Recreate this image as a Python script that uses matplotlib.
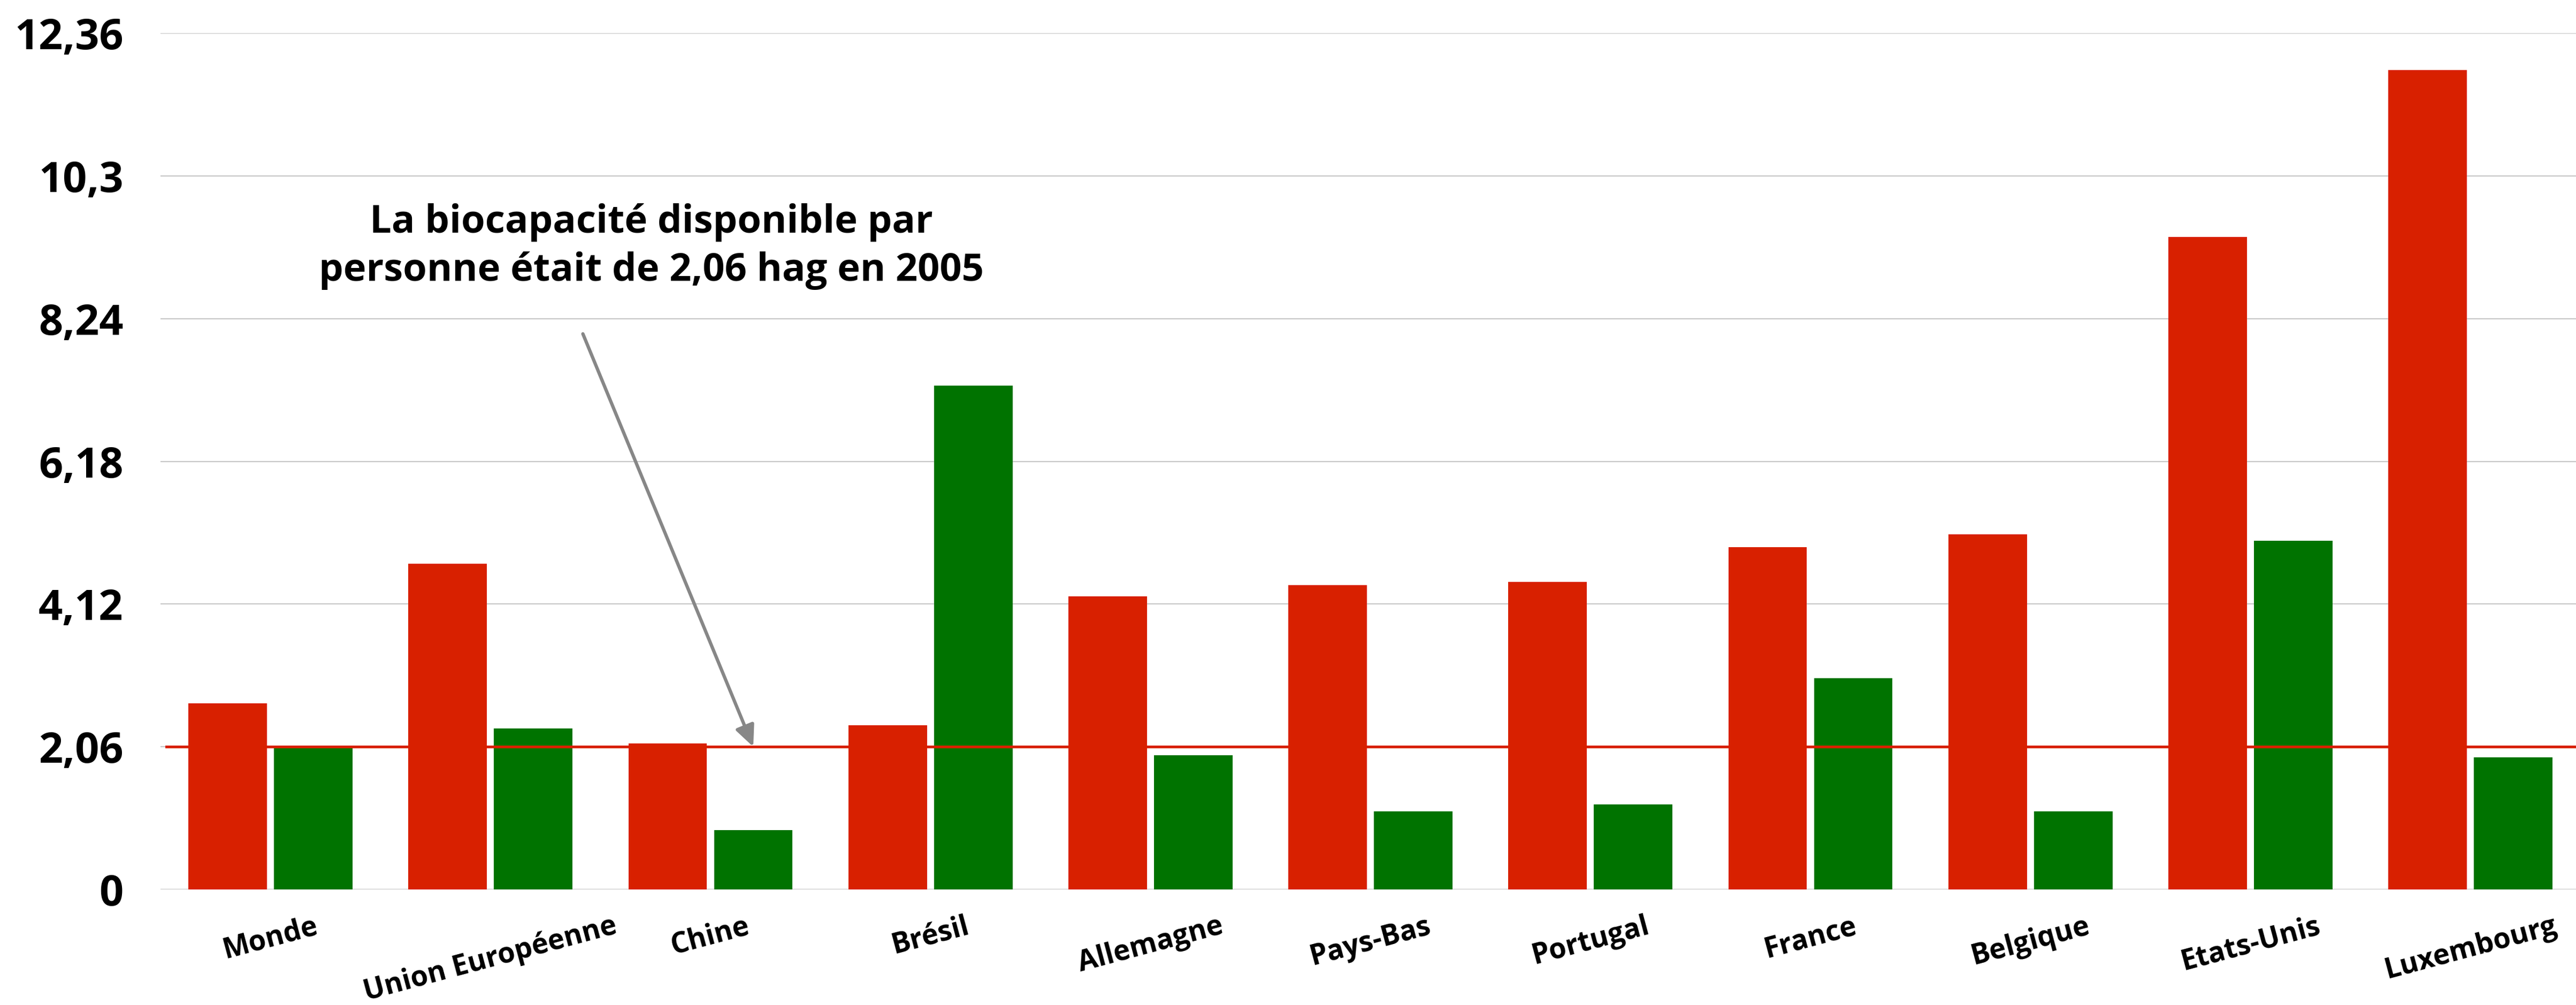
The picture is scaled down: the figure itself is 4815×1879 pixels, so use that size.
"""
Empreinte écologique vs biocapacité par personne (hag, 2005)
Bar chart, 4815x1879 px
"""

import matplotlib
matplotlib.use('Agg')
import matplotlib.pyplot as plt
import numpy as np

plt.rcParams['font.family'] = ['Open Sans', 'DejaVu Sans']

# ── Data ───────────────────────────────────────────────────────────
pays = ['Monde', 'Union Européenne', 'Chine', 'Brésil', 'Allemagne',
        'Pays-Bas', 'Portugal', 'France', 'Belgique', 'Etats-Unis',
        'Luxembourg']
empreinte = [2.69, 4.70, 2.11, 2.37, 4.23, 4.39, 4.44, 4.94, 5.13, 9.42, 11.83]
biocapacite = [2.06, 2.32, 0.86, 7.27, 1.94, 1.13, 1.23, 3.05, 1.13, 5.03, 1.91]

y_ticks = [0, 2.06, 4.12, 6.18, 8.24, 10.3, 12.36]
y_tick_labels = ['0', '2,06', '4,12', '6,18', '8,24', '10,3', '12,36']

SEUIL = 2.06
NOTE = 'La biocapacité disponible par\npersonne était de 2,06 hag en 2005'

# ── Style ──────────────────────────────────────────────────────────
COL_RED   = '#D82000'
COL_GREEN = '#007300'
COL_GRID  = '#C8C8C8'
COL_ARROW = '#878787'

W, H, DPI = 4815, 1879, 100

fig = plt.figure(figsize=(W / DPI, H / DPI), dpi=DPI, facecolor='white')
ax = fig.add_axes([300 / W, 216 / H, 1 - 300 / W, (1663 - 62) / H])

x = np.arange(len(pays))
bw = 0.357
off = 0.1945

ax.bar(x - off, empreinte, width=bw, color=COL_RED, linewidth=0, zorder=3)
ax.bar(x + off, biocapacite, width=bw, color=COL_GREEN, linewidth=0, zorder=3)

# threshold line (drawn above the bars)
ax.axhline(SEUIL, xmin=0.0025, color=COL_RED, linewidth=3.6, zorder=4)

# ── Axes ───────────────────────────────────────────────────────────
ax.set_xlim(-0.5, -0.5 + 4515 / 411.2)
ax.set_ylim(0, 12.36)
ax.set_yticks(y_ticks)
ax.set_yticklabels(y_tick_labels, fontsize=57, fontweight='bold')
ax.tick_params(axis='y', length=0, pad=50)

ax.set_xticks(x)
ax.set_xticklabels(pays, fontsize=38, fontweight='bold', rotation=15,
                   ha='center', va='top')
ax.tick_params(axis='x', length=0, pad=30)

ax.grid(axis='y', color=COL_GRID, linewidth=1.6, zorder=0)
ax.set_axisbelow(True)
for s in ax.spines.values():
    s.set_visible(False)

# ── Annotation ─────────────────────────────────────────────────────
i_chine = pays.index('Chine')
ax.annotate('', xy=(i_chine + off, SEUIL), xytext=(1.42, 8.02),
            arrowprops=dict(arrowstyle='-|>,head_length=1.2,head_width=0.55',
                            mutation_scale=20, color=COL_ARROW, lw=4.5,
                            shrinkA=0, shrinkB=0),
            zorder=5)
ax.text(1.73, 9.28, NOTE, ha='center', va='center', fontsize=52,
        fontweight='bold', linespacing=1.32, zorder=5)

fig.savefig('out.png', dpi=DPI, facecolor='white')
plt.close(fig)
